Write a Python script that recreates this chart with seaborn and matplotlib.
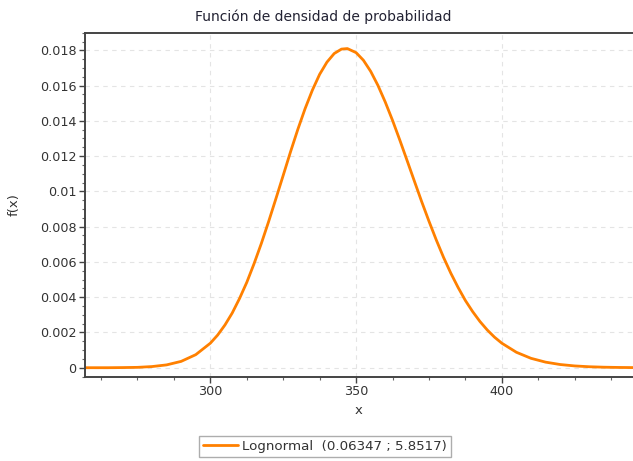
import matplotlib
matplotlib.use("Agg")
import matplotlib.pyplot as plt
import seaborn as sns
import pandas as pd
from matplotlib.ticker import AutoMinorLocator, FuncFormatter

# Values
x_vals = [257, 260, 265, 270, 275, 280, 285, 290, 295, 300, 302.5, 305, 307.5,
          310, 312.5, 315, 317.5, 320, 322.5, 325, 327.5, 330, 332.5, 335, 337.5,
          340, 342.5, 345, 347, 350, 352.5, 355, 357.5, 360, 362.5, 365, 367.5,
          370, 372.5, 375, 377.5, 380, 382.5, 385, 387.5, 390, 392.5, 395, 397.5,
          400, 405, 410, 415, 420, 425, 430, 435, 440, 445]
y_vals = [0.0, 0.0, 0.0, 0.000008, 0.00002, 0.000065, 0.00016, 0.00036, 0.00074,
          0.00139, 0.00185, 0.00242, 0.0031, 0.00392, 0.00484, 0.0059, 0.00705,
          0.00829, 0.00959, 0.01091, 0.01224, 0.01351, 0.01469, 0.01574, 0.01664,
          0.01733, 0.01782, 0.01807, 0.0181, 0.01787, 0.01744, 0.01681, 0.01601,
          0.01507, 0.01403, 0.01291, 0.01175, 0.01058, 0.00942, 0.00831, 0.00725,
          0.00626, 0.00536, 0.00455, 0.00381, 0.00318, 0.00262, 0.00214, 0.00173,
          0.00139, 0.000875, 0.000533, 0.000316, 0.000181, 0.000101, 0.000055,
          0.000029, 0.000015, 0.000007]
series_label = "Lognormal  (0.06347 ; 5.8517)"
x_ticks = [300, 350, 400]
y_ticks = [0, 0.002, 0.004, 0.006, 0.008, 0.01, 0.012, 0.014, 0.016, 0.018]

df = pd.DataFrame({"x": x_vals, "f": y_vals})

sns.set_style("white")
plt.rcParams["font.family"] = ["DejaVu Sans"]

fig = plt.figure(figsize=(6.33, 4.61), dpi=100)
ax = fig.add_axes([85 / 633, 1 - 376.7 / 461, 1 - 85 / 633, (376.7 - 32.7) / 461])

orange = "#FF8000"
sns.lineplot(data=df, x="x", y="f", ax=ax, color=orange, linewidth=2.0,
             label=series_label, legend=False)

ax.set_xlim(257, 445)
ax.set_ylim(-0.00051, 0.019)
ax.set_xticks(x_ticks)
ax.set_yticks(y_ticks)
ax.yaxis.set_major_formatter(FuncFormatter(lambda v, p: f"{v:g}"))
ax.xaxis.set_minor_locator(AutoMinorLocator(4))
ax.yaxis.set_minor_locator(AutoMinorLocator(4))

tick_color = "#333333"
ax.tick_params(axis="both", which="major", direction="out", length=4, width=1,
               color="#444444", labelsize=9.2, labelcolor=tick_color, pad=2,
               left=True, bottom=True)
ax.tick_params(axis="both", which="minor", direction="out", length=2, width=0.8,
               color="#666666", left=True, bottom=True)

ax.grid(True, which="major", linestyle=(0, (4, 4)), color="#e4e4e4", linewidth=0.8)

for s in ["left", "bottom", "top"]:
    ax.spines[s].set_visible(True)
    ax.spines[s].set_color("#444444")
    ax.spines[s].set_linewidth(1.4)
ax.spines["right"].set_visible(False)

ax.set_xlabel("x", fontsize=9.5, color=tick_color, labelpad=4)
ax.set_ylabel("f(x)", fontsize=9.5, color=tick_color)
ax.yaxis.set_label_coords(-0.118, 0.5)
fig.text(323 / 633, 1 - 17 / 461, "Función de densidad de probabilidad",
         ha="center", va="center", fontsize=10, color="#222233")

handles, labels = ax.get_legend_handles_labels()
leg = fig.legend(handles, labels, loc="center",
                 bbox_to_anchor=(325 / 633, 1 - 446 / 461),
                 frameon=True, fancybox=False, edgecolor="#999999",
                 fontsize=9.6, handlelength=2.6, borderpad=0.3,
                 handletextpad=0.3)
leg.get_frame().set_linewidth(1.0)
for t in leg.get_texts():
    t.set_color(tick_color)

fig.savefig("out.png", dpi=100)
